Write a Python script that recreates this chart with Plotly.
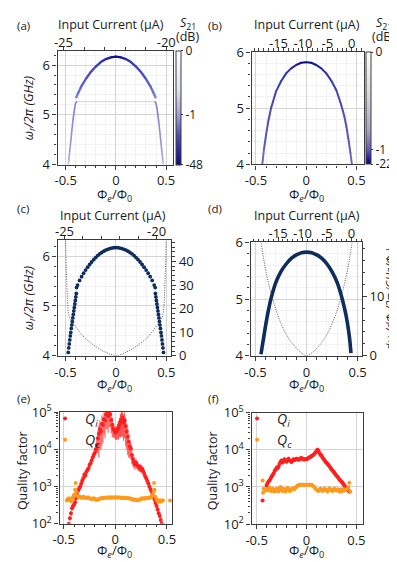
import numpy as np
import plotly.graph_objects as go
from plotly.colors import sample_colorscale

W, H = 397, 562

# ---------------- data ----------------
PHI_TICKS = [-0.5, 0, 0.5]
PHI_TICKTEXT = ["-0.5", "0", "0.5"]

# (a) measured S21 map, traced along the visible resonance branches
PHI_A_UP = [-0.395, -0.38, -0.35, -0.30, -0.25, -0.20, -0.15, -0.10, -0.05, 0.0,
            0.05, 0.10, 0.15, 0.20, 0.25, 0.30, 0.35, 0.38, 0.395]
F_A_UP = [5.35, 5.42, 5.55, 5.72, 5.86, 5.97, 6.06, 6.12, 6.155, 6.17,
          6.155, 6.12, 6.06, 5.97, 5.86, 5.72, 5.55, 5.42, 5.35]
S21_A_UP = [-2.2, -3, -4, -5.5, -7, -9, -12, -18, -30, -45,
            -30, -18, -12, -9, -7, -5.5, -4, -3, -2.2]
PHI_A_LO_L = [-0.39, -0.402, -0.41, -0.42, -0.43, -0.44, -0.45, -0.46, -0.47, -0.475]
PHI_A_LO_R = [0.39, 0.400, 0.408, 0.418, 0.428, 0.438, 0.448, 0.458, 0.468, 0.473]
F_A_LO = [5.265, 5.23, 5.15, 5.01, 4.85, 4.66, 4.46, 4.27, 4.08, 4.0]
S21_A_LO = [-1.5, -2.4, -2.3, -2.1, -1.9, -1.7, -1.5, -1.2, -0.9, -0.6]
PHI_A_FLAT = [-0.39, 0.39]
F_A_FLAT = [5.265, 5.265]
S21_A_FLAT = [-0.6, -0.6]
CB_A_DB = [0, -1, -48]

# (b)
PHI_B = [-0.437, -0.42, -0.40, -0.38, -0.35, -0.30, -0.25, -0.20, -0.15, -0.10, -0.05, 0.0,
         0.05, 0.10, 0.15, 0.20, 0.25, 0.30, 0.35, 0.38, 0.40, 0.42, 0.44, 0.454]
F_B = [4.0, 4.27, 4.52, 4.74, 5.0, 5.3, 5.48, 5.62, 5.71, 5.77, 5.81, 5.82,
       5.81, 5.77, 5.71, 5.62, 5.49, 5.32, 5.05, 4.85, 4.67, 4.45, 4.2, 4.0]
S21_B = [-0.9, -1.1, -1.4, -1.7, -2.2, -3, -4, -5, -7, -10, -15, -20,
         -15, -10, -7, -5, -4, -3, -2.2, -1.7, -1.4, -1.1, -1.0, -0.9]
CB_B_DB = [0, -1, -22]

# (c) fitted resonance and its flux derivative
PHI_C_UP = [-0.39, -0.38, -0.36, -0.34, -0.32, -0.30, -0.28, -0.26, -0.24, -0.22, -0.20,
            -0.18, -0.16, -0.14, -0.12, -0.10, -0.08, -0.06, -0.04, -0.02, 0.0,
            0.02, 0.04, 0.06, 0.08, 0.10, 0.12, 0.14, 0.16, 0.18, 0.20,
            0.22, 0.24, 0.26, 0.28, 0.30, 0.32, 0.34, 0.36, 0.38, 0.39]
F_C_UP = [5.37, 5.42, 5.512, 5.588, 5.656, 5.72, 5.778, 5.832, 5.882, 5.928, 5.97,
          6.01, 6.045, 6.072, 6.098, 6.12, 6.136, 6.15, 6.16, 6.168, 6.17,
          6.168, 6.16, 6.15, 6.136, 6.12, 6.098, 6.072, 6.045, 6.01, 5.97,
          5.928, 5.882, 5.832, 5.778, 5.72, 5.656, 5.588, 5.512, 5.42, 5.37]
PHI_C_LO_L = [-0.392, -0.397, -0.402, -0.407, -0.412, -0.417, -0.422, -0.427, -0.432,
              -0.437, -0.442, -0.447, -0.452, -0.457, -0.462, -0.467, -0.472]
PHI_C_LO_R = [0.392, 0.397, 0.402, 0.407, 0.412, 0.417, 0.422, 0.427, 0.432,
              0.437, 0.442, 0.447, 0.452, 0.457, 0.462, 0.467, 0.472]
F_C_LO = [5.25, 5.18, 5.11, 5.04, 4.97, 4.90, 4.83, 4.76, 4.69,
          4.62, 4.55, 4.47, 4.40, 4.32, 4.24, 4.16, 4.07]
PHI_C_DER = [-0.5, -0.495, -0.49, -0.485, -0.48, -0.475, -0.47, -0.46, -0.45, -0.43, -0.40,
             -0.35, -0.30, -0.25, -0.20, -0.15, -0.10, -0.05, 0.0,
             0.05, 0.10, 0.15, 0.20, 0.25, 0.30, 0.35, 0.40, 0.43, 0.45,
             0.46, 0.47, 0.475, 0.48, 0.485, 0.49, 0.495, 0.5]
DER_C = [52, 42, 35, 29, 24, 20, 18, 16.5, 15.5, 14, 12.5,
         9.6, 7.3, 5.5, 4.0, 2.6, 1.5, 0.6, 0.0,
         0.6, 1.5, 2.6, 4.0, 5.5, 7.3, 9.6, 12.5, 14, 15.5,
         16.5, 18, 20, 24, 29, 35, 42, 52]

# (d)
PHI_D = [-0.447, -0.42, -0.40, -0.38, -0.35, -0.30, -0.25, -0.20, -0.15, -0.10, -0.05, 0.0,
         0.05, 0.10, 0.15, 0.20, 0.25, 0.30, 0.35, 0.38, 0.40, 0.42, 0.435]
F_D = [4.03, 4.33, 4.55, 4.75, 5.0, 5.3, 5.49, 5.62, 5.72, 5.78, 5.82, 5.83,
       5.82, 5.78, 5.72, 5.62, 5.48, 5.29, 5.0, 4.77, 4.58, 4.33, 4.05]
PHI_D_DER = [-0.47, -0.45, -0.44, -0.42, -0.40, -0.35, -0.30, -0.25, -0.20, -0.15, -0.10, -0.05, 0.0,
             0.05, 0.10, 0.15, 0.20, 0.25, 0.30, 0.35, 0.40, 0.42, 0.44, 0.45, 0.47]
DER_D = [22, 19.5, 18.3, 16.2, 14.3, 10.6, 7.7, 5.4, 3.6, 2.3, 1.3, 0.5, 0.0,
         0.5, 1.3, 2.3, 3.6, 5.4, 7.7, 10.6, 14.3, 16.2, 18.3, 19.5, 22]

# (e) quality factors, device 1
PHI_QI_E = [-0.45, -0.44, -0.43, -0.42, -0.41, -0.40, -0.39, -0.38, -0.37, -0.36, -0.35, -0.34,
            -0.33, -0.32, -0.31, -0.30, -0.29, -0.28, -0.27, -0.26, -0.25, -0.24, -0.23,
            -0.22, -0.21, -0.20, -0.19, -0.18, -0.17, -0.16, -0.15, -0.14, -0.13, -0.12,
            -0.11, -0.10, -0.09, -0.08, -0.07, -0.06, -0.05, -0.04, -0.03, -0.02, -0.01,
            0.00, 0.01, 0.02, 0.03, 0.04, 0.05, 0.06, 0.07, 0.08, 0.09, 0.10, 0.11, 0.12,
            0.13, 0.14, 0.15, 0.16, 0.17, 0.18, 0.19, 0.20, 0.21, 0.22, 0.23, 0.24, 0.25,
            0.26, 0.27, 0.28, 0.29, 0.30, 0.31, 0.32, 0.33, 0.34, 0.35, 0.36, 0.37, 0.38,
            0.39, 0.40, 0.41, 0.42, 0.43, 0.44, 0.45]
QI_E = [100, 140, 190, 260, 300, 330, 380, 480, 600, 780, 900, 1000,
        1200, 1450, 1700, 2100, 2000, 2500, 2800, 3100, 3800, 4200, 5000,
        6000, 7000, 8000, 10000, 13000, 20000, 26000, 35000, 30000, 48000, 45000,
        65000, 60000, 85000, 95000, 78000, 100000, 88000, 62000, 46000, 36000, 32000,
        28000, 30000, 34000, 38000, 46000, 56000, 62000, 72000, 52000, 60000, 42000, 30000, 22000,
        16000, 12000, 10500, 7000, 5500, 4600, 4000, 4400, 3800, 3500, 3200, 3400, 2800,
        3000, 2600, 2200, 1900, 1650, 1400, 1200, 1000, 860, 740, 600, 520, 440,
        360, 300, 240, 190, 160, 125, 100]
ERR_QI_E = [0, 20, 30, 40, 50, 50, 60, 70, 80, 100, 120, 150,
            180, 200, 250, 300, 300, 400, 400, 500, 600, 700, 800,
            1000, 1500, 2000, 3000, 5000, 12000, 20000, 25000, 20000, 35000, 30000,
            40000, 40000, 50000, 60000, 50000, 60000, 50000, 35000, 25000, 15000, 12000,
            10000, 12000, 15000, 20000, 25000, 35000, 40000, 50000, 35000, 40000, 30000, 20000, 15000,
            10000, 6000, 5000, 3000, 2000, 1500, 1200, 1200, 900, 800, 700, 700, 500,
            500, 400, 350, 300, 250, 200, 180, 150, 120, 100, 80, 70, 60,
            50, 40, 30, 30, 20, 20, 0]
PHI_QC_E = [-0.47, -0.46, -0.45, -0.44, -0.43, -0.42, -0.41, -0.40, -0.39, -0.385, -0.38, -0.37,
            -0.36, -0.35, -0.34, -0.33, -0.32, -0.31, -0.30, -0.29, -0.28, -0.27, -0.26, -0.25,
            -0.24, -0.23, -0.22, -0.21, -0.20, -0.19, -0.18, -0.17, -0.16, -0.15, -0.14, -0.13,
            -0.12, -0.11, -0.10, -0.09, -0.08, -0.07, -0.06, -0.05, -0.04, -0.03, -0.02, -0.01,
            0.00, 0.01, 0.02, 0.03, 0.04, 0.05, 0.06, 0.07, 0.08, 0.09, 0.10, 0.11, 0.12,
            0.13, 0.14, 0.15, 0.16, 0.17, 0.18, 0.19, 0.20, 0.21, 0.22, 0.23, 0.24, 0.25,
            0.26, 0.27, 0.28, 0.29, 0.30, 0.31, 0.32, 0.33, 0.34, 0.35, 0.36, 0.37, 0.375,
            0.38, 0.39, 0.40, 0.41, 0.42, 0.43, 0.44, 0.45, 0.46, 0.53]
QC_E = [420, 460, 480, 430, 400, 460, 520, 600, 820, 1250, 720, 560,
        520, 540, 520, 500, 510, 530, 510, 500, 490, 505, 510, 480,
        470, 460, 470, 485, 470, 450, 440, 445, 455, 470, 480, 485,
        490, 495, 500, 500, 505, 505, 505, 510, 510, 505, 505, 505,
        505, 505, 505, 510, 505, 500, 500, 500, 495, 495, 490, 490, 485,
        480, 475, 470, 455, 445, 440, 445, 440, 430, 430, 440, 450, 465,
        480, 475, 470, 480, 495, 490, 485, 500, 510, 530, 580, 720, 1250,
        820, 520, 440, 410, 430, 390, 420, 400, 430, 420]

# (f) quality factors, device 2
PHI_QI_F = [-0.44, -0.40, -0.39, -0.38, -0.37, -0.36, -0.35, -0.34, -0.33, -0.32, -0.31,
            -0.30, -0.29, -0.28, -0.27, -0.26, -0.25, -0.24, -0.23, -0.22, -0.21, -0.20,
            -0.19, -0.18, -0.17, -0.16, -0.15, -0.14, -0.13, -0.12, -0.11, -0.10, -0.09,
            -0.08, -0.07, -0.06, -0.05, -0.04, -0.03, -0.02, -0.01, 0.00, 0.01, 0.02,
            0.03, 0.04, 0.05, 0.06, 0.07, 0.08, 0.09, 0.10, 0.11, 0.12, 0.13, 0.14,
            0.15, 0.16, 0.17, 0.18, 0.19, 0.20, 0.21, 0.22, 0.23, 0.24, 0.25, 0.26,
            0.27, 0.28, 0.29, 0.30, 0.31, 0.32, 0.33, 0.34, 0.35, 0.36, 0.37, 0.38,
            0.39, 0.40, 0.41, 0.42, 0.43]
QI_F = [430, 1100, 1250, 1400, 1500, 1700, 1900, 2100, 2300, 2700, 2900,
        3300, 3200, 3600, 4200, 4800, 5200, 4600, 5000, 5600, 5100, 4800,
        5300, 5800, 5200, 5000, 4700, 5200, 5600, 5300, 5500, 5800, 5600,
        5400, 5600, 5900, 6000, 5700, 5600, 5500, 5600, 5700, 5800, 6000,
        6300, 6500, 6700, 7000, 7400, 7800, 8500, 9200, 10000, 9500, 8200, 7400,
        7000, 6200, 5800, 5300, 4800, 4500, 4200, 3900, 3600, 3300, 3000, 2800,
        2600, 2400, 2200, 2000, 1900, 1750, 1600, 1500, 1400, 1300, 1200, 1100,
        1000, 950, 900, 800, 750]
ERR_QI_F = [30, 120, 120, 150, 150, 180, 200, 200, 250, 300, 300,
            350, 350, 400, 500, 600, 700, 500, 600, 700, 600, 500,
            600, 700, 600, 500, 500, 600, 600, 600, 600, 700, 600,
            600, 600, 700, 700, 600, 600, 600, 600, 600, 700, 700,
            700, 800, 800, 900, 900, 1000, 1100, 1200, 1400, 1200, 1000, 900,
            800, 700, 700, 600, 500, 500, 500, 450, 400, 350, 300, 300,
            300, 250, 250, 200, 200, 180, 160, 150, 150, 140, 130, 120,
            110, 100, 100, 90, 80]
PHI_QC_F = [-0.44, -0.435, -0.43, -0.42, -0.41, -0.40, -0.39, -0.38, -0.37, -0.36, -0.35,
            -0.34, -0.33, -0.32, -0.31, -0.30, -0.29, -0.28, -0.27, -0.26, -0.25, -0.24,
            -0.23, -0.22, -0.21, -0.20, -0.19, -0.18, -0.17, -0.16, -0.15, -0.14, -0.13,
            -0.12, -0.11, -0.10, -0.09, -0.08, -0.07, -0.06, -0.05, -0.04, -0.03, -0.02,
            -0.01, 0.00, 0.01, 0.02, 0.03, 0.04, 0.05, 0.06, 0.07, 0.08, 0.09, 0.10,
            0.11, 0.12, 0.13, 0.14, 0.15, 0.16, 0.17, 0.18, 0.19, 0.20, 0.21, 0.22,
            0.23, 0.24, 0.25, 0.26, 0.27, 0.28, 0.29, 0.30, 0.31, 0.32, 0.33, 0.34,
            0.35, 0.36, 0.37, 0.38, 0.39, 0.40, 0.41, 0.42, 0.43, 0.44]
QC_F = [1500, 700, 900, 850, 800, 900, 850, 800, 950, 850, 780,
        900, 820, 760, 850, 900, 800, 750, 950, 1000, 850, 780,
        900, 820, 760, 850, 950, 850, 780, 800, 870, 920, 850,
        880, 950, 1020, 1080, 1120, 1140, 1150, 1150, 1150, 1150, 1150,
        1150, 1150, 1150, 1150, 1150, 1150, 1140, 1100, 1050, 980, 900, 850,
        800, 780, 820, 900, 850, 780, 830, 900, 850, 800, 760, 850,
        920, 850, 800, 780, 860, 900, 830, 800, 870, 820, 760, 850,
        800, 780, 880, 820, 800, 850, 900, 1000, 1300, 750]

# ---------------- style ----------------
FONT = "Open Sans, Noto Sans, sans-serif"
TXT = "#1a1a1a"
AXIS = "#3c3c3c"
GRID = "#d4d4d4"
GRID_MINOR = "#f2f2f2"
NAVY = "#0f2d5c"
RED = "#ff1f1f"
ORANGE = "#ff9a1c"
CS_A = [[0, "#0c0c7a"], [0.12, "#2626a6"], [0.25, "#4a4ab8"], [0.44, "#a2a2da"],
        [0.65, "#e2e2f3"], [1, "#ffffff"]]
CS_B = [[0, "#08087a"], [0.05, "#2020a2"], [0.129, "#5e5eb4"], [0.3, "#a6a6c4"],
        [0.6, "#d6d6de"], [1, "#ffffff"]]


def xd(left, right):
    return [left / W, right / W]


def yd(top, bottom):
    return [1 - bottom / H, 1 - top / H]


def db_pos(db, floor_db, mid):
    """Position on the colour bar: 0 dB at top, -1 dB at `mid`, floor at bottom."""
    v = np.log1p(-np.asarray(db, dtype=float))
    return np.interp(v, [0, np.log1p(1), np.log1p(-floor_db)], [1, mid, 0])


AX = dict(showline=True, linecolor=AXIS, linewidth=1.4, ticks="outside", ticklen=4,
          tickwidth=1, tickcolor=AXIS, tickfont=dict(size=13, color=TXT, family=FONT),
          zeroline=False)


def phi_axis(dom, rng, anchor, minor_grid=True):
    return dict(AX, domain=dom, range=rng, anchor=anchor, tickmode="array",
                tickvals=PHI_TICKS, ticktext=PHI_TICKTEXT, showgrid=True,
                gridcolor=GRID, gridwidth=1, mirror=True,
                minor=dict(tickmode="linear", tick0=0, dtick=0.1, ticks="outside",
                           ticklen=2.5, tickcolor=AXIS, showgrid=minor_grid,
                           gridcolor=GRID_MINOR))


def current_axis(dom, rng, overlay, anchor, vals):
    return dict(AX, domain=dom, range=rng, overlaying=overlay, anchor=anchor,
                side="top", tickmode="array", tickvals=vals,
                ticktext=[str(v) for v in vals], showgrid=False,
                ticklabelstandoff=-6,
                minor=dict(tickmode="linear", tick0=0, dtick=1, ticks="outside",
                           ticklen=2.5, tickcolor=AXIS))


def freq_axis(dom, rng, anchor):
    return dict(AX, domain=dom, range=rng, anchor=anchor, tickmode="array",
                tickvals=[4, 5, 6], ticktext=["4", "5", "6"], showgrid=True,
                gridcolor=GRID, mirror=True,
                minor=dict(tickmode="linear", tick0=4, dtick=0.2, ticks="outside",
                           ticklen=2.5, tickcolor=AXIS, showgrid=True,
                           gridcolor=GRID_MINOR))


def right_axis(dom, rng, overlay, anchor, vals):
    return dict(AX, domain=dom, range=rng, overlaying=overlay, anchor=anchor,
                side="right", tickmode="array", tickvals=vals,
                ticktext=[str(v) for v in vals], showgrid=False,
                minor=dict(tickmode="linear", tick0=0, dtick=2, ticks="outside",
                           ticklen=2.5, tickcolor=AXIS))


LOG_MINOR = [m * 10 ** d for d in (2, 3, 4) for m in range(2, 10)]


def q_axis(dom, anchor):
    return dict(AX, domain=dom, type="log", range=[2, 5], anchor=anchor,
                tickmode="array", tickvals=[1e2, 1e3, 1e4, 1e5],
                ticktext=["10<sup>2</sup>", "10<sup>3</sup>", "10<sup>4</sup>", "10<sup>5</sup>"],
                showgrid=True, gridcolor=GRID, mirror=True,
                minor=dict(tickmode="array", tickvals=LOG_MINOR, ticks="outside",
                           ticklen=2.5, tickcolor=AXIS, showgrid=False))


fig = go.Figure()

# empty traces so that the top "Input Current" axes get drawn
for xa, ya in [("x2", "y"), ("x4", "y2"), ("x6", "y3"), ("x8", "y5")]:
    fig.add_trace(go.Scatter(x=[], y=[], xaxis=xa, yaxis=ya, showlegend=False,
                             hoverinfo="skip"))


def add_graded(xs, ys, dbs, floor_db, mid, cs, xa, ya, width, colorbar=None):
    pos = db_pos(dbs, floor_db, mid)
    for i in range(len(xs) - 1):
        col = sample_colorscale(cs, [(pos[i] + pos[i + 1]) / 2])[0]
        fig.add_trace(go.Scatter(x=xs[i:i + 2], y=ys[i:i + 2], mode="lines",
                                 line=dict(color=col, width=width),
                                 xaxis=xa, yaxis=ya, showlegend=False, hoverinfo="skip"))
    marker = dict(size=width * 0.9, color=pos, colorscale=cs, cmin=0, cmax=1,
                  line=dict(width=0))
    if colorbar:
        marker.update(showscale=True, colorbar=colorbar)
    fig.add_trace(go.Scatter(x=xs, y=ys, mode="markers", marker=marker,
                             xaxis=xa, yaxis=ya, showlegend=False, hoverinfo="skip"))


def colorbar(x_px, top, bottom, ticks_db, floor_db, mid):
    return dict(x=x_px / W, xanchor="left", y=1 - (top + bottom) / 2 / H, yanchor="middle",
                len=(bottom - top) / H, lenmode="fraction", thickness=5,
                thicknessmode="pixels", xpad=0, ypad=0, outlinewidth=1,
                outlinecolor=AXIS, tickmode="array",
                tickvals=list(db_pos(ticks_db, floor_db, mid)),
                ticktext=[str(t) for t in ticks_db], ticks="outside", ticklen=2,
                tickcolor=AXIS, tickfont=dict(size=12, color=TXT, family=FONT))


# (a)
add_graded(PHI_A_FLAT, F_A_FLAT, S21_A_FLAT, -48, 0.44, CS_A, "x", "y", 1.2)
add_graded(PHI_A_LO_L, F_A_LO, S21_A_LO, -48, 0.44, CS_A, "x", "y", 1.6)
add_graded(PHI_A_LO_R, F_A_LO, S21_A_LO, -48, 0.44, CS_A, "x", "y", 1.6)
add_graded(PHI_A_UP, F_A_UP, S21_A_UP, -48, 0.44, CS_A, "x", "y", 2.4,
           colorbar=colorbar(166.5, 33.3, 151, CB_A_DB, -48, 0.44))

# (b)
add_graded(PHI_B, F_B, S21_B, -22, 0.129, CS_B, "x3", "y2", 2.0,
           colorbar=colorbar(362, 34.3, 150.7, CB_B_DB, -22, 0.129))

# (c)
fig.add_trace(go.Scatter(x=PHI_C_DER, y=DER_C, mode="lines",
                         line=dict(color="#444444", width=0.9, dash="1px,1.4px", shape="spline"),
                         xaxis="x5", yaxis="y4", showlegend=False, hoverinfo="skip"))
for px_, py_ in [(PHI_C_UP, F_C_UP), (PHI_C_LO_L, F_C_LO), (PHI_C_LO_R, F_C_LO)]:
    fig.add_trace(go.Scatter(x=px_, y=py_, mode="markers",
                             marker=dict(color=NAVY, size=3.8, line=dict(width=0)),
                             xaxis="x5", yaxis="y3", showlegend=False, hoverinfo="skip"))

# (d)
fig.add_trace(go.Scatter(x=PHI_D_DER, y=DER_D, mode="lines",
                         line=dict(color="#444444", width=0.9, dash="1px,1.4px", shape="spline"),
                         xaxis="x7", yaxis="y6", showlegend=False, hoverinfo="skip"))
fig.add_trace(go.Scatter(x=PHI_D, y=F_D, mode="lines",
                         line=dict(color=NAVY, width=3.6, shape="spline"),
                         xaxis="x7", yaxis="y5", showlegend=False, hoverinfo="skip"))

# (e), (f)
QI_NAME = "<i>Q<sub>i</sub></i>"
QC_NAME = "<i>Q<sub>c</sub></i>"
for xa, ya, leg, pqi, qi, eqi, pqc, qc in [
        ("x9", "y7", "legend", PHI_QI_E, QI_E, ERR_QI_E, PHI_QC_E, QC_E),
        ("x10", "y8", "legend2", PHI_QI_F, QI_F, ERR_QI_F, PHI_QC_F, QC_F)]:
    fig.add_trace(go.Scatter(x=pqi, y=qi, mode="markers", name=QI_NAME, legend=leg,
                             marker=dict(color=RED, size=4, line=dict(width=0)),
                             error_y=dict(type="data", array=eqi, color=RED,
                                          thickness=0.8, width=0),
                             xaxis=xa, yaxis=ya, hoverinfo="skip"))
    fig.add_trace(go.Scatter(x=pqc, y=qc, mode="markers", name=QC_NAME, legend=leg,
                             marker=dict(color=ORANGE, size=4, line=dict(width=0)),
                             xaxis=xa, yaxis=ya, hoverinfo="skip"))


def label(text, x, y, size=12.5, xanchor="center", angle=0):
    return dict(text=text, x=x / W, y=1 - y / H, xref="paper", yref="paper",
                showarrow=False, xanchor=xanchor, yanchor="middle", textangle=angle,
                font=dict(size=size, color=TXT, family=FONT))


PHI_TITLE = "Φ<sub><i>e</i></sub>/Φ<sub>0</sub>"
OMEGA_TITLE = "<i>ω<sub>r</sub>/2π (GHz)</i>"
S21_TITLE = "<i>S</i><sub>21</sub>"
CURRENT_TITLE = "Input Current (µA)"

annotations = [
    label("(a)", 0, 7, 11.5, "left"), label("(b)", 197, 7, 11.5, "left"),
    label("(c)", 0, 197, 11.5, "left"), label("(d)", 197, 197, 11.5, "left"),
    label("(e)", 0, 394, 11.5, "left"), label("(f)", 197, 394, 11.5, "left"),
    label(CURRENT_TITLE, 99, 6), label(CURRENT_TITLE, 301, 6),
    label(CURRENT_TITLE, 101, 204), label(CURRENT_TITLE, 301, 204),
    label(S21_TITLE, 178, 5, 12.5), label("(dB)", 178, 18, 12.5),
    label(S21_TITLE, 380, 5, 12.5), label("(dB)", 380, 18, 12.5),
    label(PHI_TITLE, 103, 182, 13), label(PHI_TITLE, 301, 182, 13),
    label(PHI_TITLE, 103, 380, 13), label(PHI_TITLE, 301, 380, 13),
    label(PHI_TITLE, 103, 552, 13), label(PHI_TITLE, 301, 552, 13),
    label(OMEGA_TITLE, 15, 92, 12.5, angle=-90),
    label(OMEGA_TITLE, 15, 289, 12.5, angle=-90),
    label("Quality factor", 8, 468, 12.5, angle=-90),
    label("Quality factor", 204, 468, 12.5, angle=-90),
    label("<i>dω<sub>r</sub>/dΦ<sub>e</sub>/2π (GHz/Φ<sub>0</sub>)</i>", 386, 290, 11, angle=-90),
]

legend_style = dict(xanchor="left", yanchor="top", bgcolor="rgba(0,0,0,0)",
                    font=dict(size=14, color=TXT, family=FONT), tracegroupgap=0,
                    itemwidth=30, borderwidth=0)

fig.update_layout(
    width=W, height=H, autosize=False,
    margin=dict(l=0, r=0, t=0, b=0, pad=0),
    paper_bgcolor="white", plot_bgcolor="white",
    font=dict(family=FONT, color=TXT),
    showlegend=True,
    legend=dict(legend_style, x=31 / W, y=1 - 398 / H),
    legend2=dict(legend_style, x=229 / W, y=1 - 398 / H),
    annotations=annotations,
    # (a)
    xaxis=phi_axis(xd(44, 163), [-0.58, 0.57], "y"),
    xaxis2=current_axis(xd(44, 163), [-25.28, -19.67], "x", "y", [-25, -20]),
    yaxis=freq_axis(yd(33.3, 151), [4, 6.28], "x"),
    # (b)
    xaxis3=phi_axis(xd(244, 360), [-0.543, 0.576], "y2"),
    xaxis4=current_axis(xd(244, 360), [-20.5, 2.52], "x3", "y2", [-15, -10, -5, 0]),
    yaxis2=freq_axis(yd(34.3, 150.7), [4, 6], "x3"),
    # (c)
    xaxis5=phi_axis(xd(44, 161), [-0.577, 0.548], "y3"),
    xaxis6=current_axis(xd(44, 161), [-25.37, -19.21], "x5", "y3", [-25, -20]),
    yaxis3=freq_axis(yd(229.3, 349.3), [4, 6.32], "x5"),
    yaxis4=right_axis(yd(229.3, 349.3), [0, 49], "y3", "x5", [0, 10, 20, 30, 40]),
    # (d)
    xaxis7=phi_axis(xd(243, 357.5), [-0.548, 0.54], "y5"),
    xaxis8=current_axis(xd(243, 357.5), [-20.6, 2.1], "x7", "y5", [-15, -10, -5, 0]),
    yaxis5=freq_axis(yd(231.7, 349.3), [4, 6], "x7"),
    yaxis6=right_axis(yd(231.7, 349.3), [0, 19], "y5", "x7", [0, 10]),
    # (e)
    xaxis9=phi_axis(xd(46, 162), [-0.54, 0.55], "y7", minor_grid=False),
    yaxis7=q_axis(yd(407.7, 523.3), "x9"),
    # (f)
    xaxis10=phi_axis(xd(244, 359), [-0.55, 0.568], "y8", minor_grid=False),
    yaxis8=q_axis(yd(408.3, 523.7), "x10"),
)

fig.write_html("out.html")
